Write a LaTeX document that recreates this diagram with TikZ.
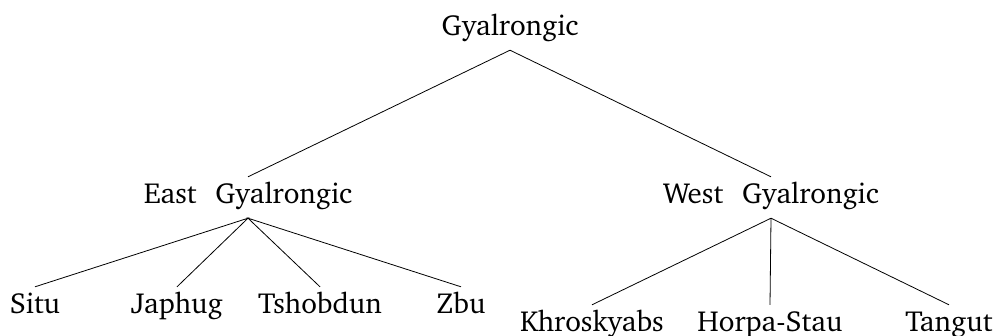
\documentclass[tikz,border=0pt]{standalone}
\usepackage[T1]{fontenc}
\usepackage{charter}
\begin{document}
\begin{tikzpicture}[x=1pt,y=-1pt,
  lab/.style={anchor=base,inner xsep=0pt,inner ysep=7pt,text height=19pt,text depth=8pt,font=\fontsize{29}{32}\selectfont},
  edge/.style={draw=black,line width=0.8pt}]
\useasboundingbox (0,0) rectangle (998,335);
\node[lab] (root) at (510,35) {Gyalrongic};
\node[lab] (east) at (248,203) {East\hspace{0.65em}Gyalrongic};
\node[lab] (west) at (771,203) {West\hspace{0.65em}Gyalrongic};
\node[lab] (situ) at (35,313) {Situ};
\node[lab] (japhug) at (177,313) {Japhug};
\node[lab] (tshobdun) at (320,313) {Tshobdun};
\node[lab] (zbu) at (461,313) {Zbu};
\node[lab] (khro) at (592,331) {Khroskyabs};
\node[lab] (horpa) at (770,331) {Horpa-Stau};
\node[lab] (tangut) at (949,331) {Tangut};
\draw[edge] (east.north) -- (root.south) -- (west.north);
\draw[edge] (situ.north) -- (east.south) -- (japhug.north);
\draw[edge] (tshobdun.north) -- (east.south) -- (zbu.north);
\draw[edge] (khro.north) -- (west.south) -- (tangut.north);
\draw[edge] (west.south) -- (horpa.north);
\end{tikzpicture}
\end{document}
